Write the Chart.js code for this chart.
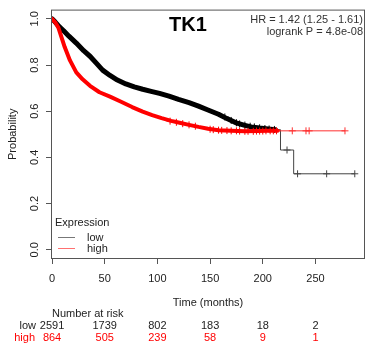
<!DOCTYPE html>
<html>
<head>
<meta charset="utf-8">
<script src="https://cdn.jsdelivr.net/npm/chart.js@4.4.0/dist/chart.umd.min.js"></script>
<style>
  body { margin: 0; background: #fff; }
  #wrap { width: 370px; height: 349px; position: relative; }
</style>
</head>
<body>
<div id="wrap"><canvas id="myChart"></canvas></div>
<script>
// survival curve (months, probability)
var lowTime = [0, 3, 7, 11, 16, 23, 30, 36, 42, 48, 55, 62, 70, 78, 86, 94, 102, 111, 120, 130, 139, 148, 158, 166, 174, 182, 189, 197, 205, 212];
var lowSurv = [1.0, 0.986, 0.965, 0.948, 0.925, 0.895, 0.862, 0.838, 0.808, 0.778, 0.755, 0.735, 0.718, 0.705, 0.695, 0.686, 0.677, 0.665, 0.651, 0.637, 0.622, 0.605, 0.587, 0.568, 0.551, 0.54, 0.532, 0.527, 0.523, 0.52];
var highTime = [0, 3, 6, 9, 12, 17, 23, 29, 36, 45, 55, 65, 76, 86, 95, 104, 113, 120, 130, 139, 148, 158, 170, 183, 195, 205, 214];
var highSurv = [1.0, 0.985, 0.962, 0.92, 0.878, 0.82, 0.768, 0.738, 0.71, 0.682, 0.663, 0.642, 0.618, 0.598, 0.583, 0.57, 0.558, 0.551, 0.541, 0.532, 0.524, 0.518, 0.515, 0.513, 0.514, 0.515, 0.515];

// sparse tails (steps) and censor marks
var lowTailTime = [212, 216.8, 223, 229.3, 233, 260.6, 287.3];
var lowTailSurv = [0.52, 0.432, 0.432, 0.329, 0.329, 0.329, 0.329];
var lowTailCens = [0, 0, 1, 0, 1, 1, 1];
var highTailTime = [214, 228, 241, 244, 278];
var highTailSurv = [0.515, 0.515, 0.515, 0.515, 0.515];
var highTailCens = [0, 1, 1, 1, 1];

var lowCensTime = [164, 170, 175, 178, 183, 188, 192, 197, 202, 206, 211];
var lowCensSurv = [0.575, 0.56, 0.55, 0.545, 0.54, 0.535, 0.532, 0.528, 0.525, 0.523, 0.521];
var highCensTime = [112, 118, 124, 130, 136, 150, 153, 158, 161, 166, 170, 175, 178, 183, 186, 191, 194, 197, 200, 203, 207, 210, 213];
var highCensSurv = [0.557, 0.552, 0.546, 0.541, 0.535, 0.522, 0.52, 0.518, 0.517, 0.516, 0.515, 0.515, 0.514, 0.513, 0.513, 0.513, 0.514, 0.514, 0.514, 0.515, 0.515, 0.515, 0.515];

var xTicks = [0, 50, 100, 150, 200, 250];
var yTicks = [0, 0.2, 0.4, 0.6, 0.8, 1.0];
var riskLow = [2591, 1739, 802, 183, 18, 2];
var riskHigh = [864, 505, 239, 58, 9, 1];

var FONT = "'Liberation Sans', Arial, sans-serif";

function pts(t, s) {
  var out = [];
  for (var i = 0; i < t.length; i++) out.push({x: t[i], y: s[i]});
  return out;
}

var decor = {
  id: 'decor',
  afterDraw: function(chart) {
    var c = chart.ctx, a = chart.chartArea, xs = chart.scales.x;
    c.save();
    c.strokeStyle = '#555';
    c.lineWidth = 1;
    c.strokeRect(a.left + 0.5, a.top + 0.5, a.right - a.left - 1, a.bottom - a.top - 1);

    c.fillStyle = '#000';
    c.textAlign = 'center';
    c.font = 'bold 20px ' + FONT;
    c.fillText('TK1', 188, 31);

    c.font = '11px ' + FONT;
    c.fillStyle = '#333';
    c.textAlign = 'right';
    c.fillText('HR = 1.42 (1.25 - 1.61)', 363, 23);
    c.fillText('logrank P = 4.8e-08', 363, 35);

    // legend
    c.textAlign = 'left';
    c.fillStyle = '#222';
    c.fillText('Expression', 55, 226);
    c.fillText('low', 87, 241);
    c.fillText('high', 87, 252);
    c.strokeStyle = '#777';
    c.beginPath(); c.moveTo(58, 237.5); c.lineTo(75, 237.5); c.stroke();
    c.strokeStyle = '#ff7070';
    c.beginPath(); c.moveTo(58, 248.5); c.lineTo(75, 248.5); c.stroke();

    // number at risk
    c.fillStyle = '#222';
    c.fillText('Number at risk', 52, 317);
    c.textAlign = 'right';
    c.fillText('low', 36, 328.5);
    c.fillStyle = '#ff0000';
    c.fillText('high', 35, 341);
    c.textAlign = 'center';
    for (var i = 0; i < xTicks.length; i++) {
      var px = xs.getPixelForValue(xTicks[i]);
      c.fillStyle = '#222';
      c.fillText(String(riskLow[i]), px, 328.5);
      c.fillStyle = '#ff0000';
      c.fillText(String(riskHigh[i]), px, 341);
    }
    c.restore();
  }
};

Chart.defaults.font.family = FONT;
Chart.defaults.font.size = 11;
Chart.defaults.color = '#222';

var ctx = document.getElementById('myChart').getContext('2d');
var chart = new Chart(ctx, {
  type: 'line',
  data: {
    datasets: [
      {
        // high censor marks
        data: pts(highCensTime, highCensSurv),
        showLine: false,
        pointStyle: 'cross', pointRadius: 3.5, pointBorderWidth: 1,
        borderColor: '#ff0000'
      },
      {
        data: pts(highTailTime, highTailSurv),
        stepped: 'before',
        borderColor: '#ff3030', borderWidth: 1,
        pointStyle: 'cross', pointBorderWidth: 1,
        pointRadius: highTailCens.map(function(v) { return v ? 3.5 : 0; })
      },
      {
        data: pts(highTime, highSurv),
        borderColor: '#ff0000', borderWidth: 4,
        borderJoinStyle: 'round', borderCapStyle: 'round',
        pointRadius: 0, tension: 0
      },
      {
        data: pts(lowCensTime, lowCensSurv),
        showLine: false,
        pointStyle: 'cross', pointRadius: 3.5, pointBorderWidth: 1,
        borderColor: '#000'
      },
      {
        data: pts(lowTailTime, lowTailSurv),
        stepped: 'before',
        borderColor: '#444', borderWidth: 1,
        pointStyle: 'cross', pointBorderWidth: 1,
        pointRadius: lowTailCens.map(function(v) { return v ? 3.5 : 0; })
      },
      {
        data: pts(lowTime, lowSurv),
        borderColor: '#000', borderWidth: 5,
        borderJoinStyle: 'round', borderCapStyle: 'round',
        pointRadius: 0, tension: 0
      }
    ]
  },
  options: {
    responsive: true,
    maintainAspectRatio: false,
    animation: false,
    layout: { padding: { top: 7, right: 2, left: 0, bottom: 0 } },
    plugins: { legend: { display: false }, tooltip: { enabled: false } },
    scales: {
      x: {
        type: 'linear', min: -1, max: 297,
        afterBuildTicks: function(s) { s.ticks = xTicks.map(function(v) { return {value: v}; }); },
        afterFit: function(s) { s.height = 90; },
        grid: { drawOnChartArea: false, tickLength: 5, tickColor: '#555' },
        border: { display: false },
        ticks: { padding: 8, maxRotation: 0, autoSkip: false, color: '#222' },
        title: { display: true, text: 'Time (months)', padding: { top: 0, bottom: 39 } }
      },
      y: {
        type: 'linear', min: -0.04, max: 1.04,
        afterBuildTicks: function(s) { s.ticks = yTicks.map(function(v) { return {value: v}; }); },
        afterFit: function(s) { s.width = 51; },
        grid: { drawOnChartArea: false, tickLength: 5, tickColor: '#555' },
        border: { display: false },
        ticks: {
          minRotation: 90, maxRotation: 90, crossAlign: 'center', padding: 3, color: '#222',
          callback: function(v) { return v.toFixed(1); }
        },
        title: { display: true, text: 'Probability', padding: { top: 6, bottom: 0 } }
      }
    }
  },
  plugins: [decor]
});
</script>
</body>
</html>
